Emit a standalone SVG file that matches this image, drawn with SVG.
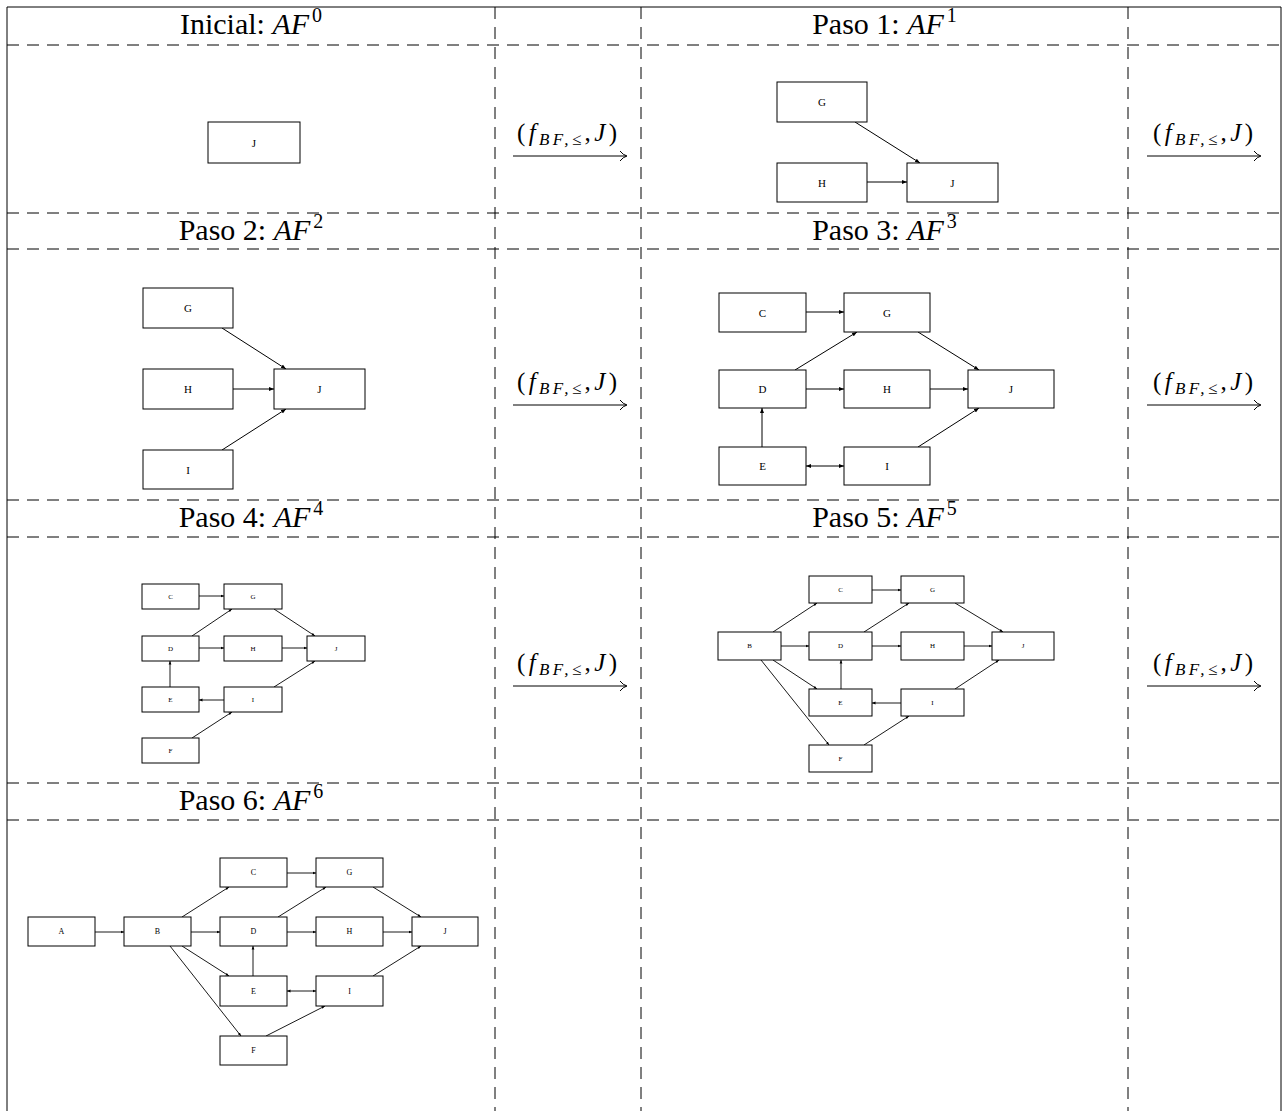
<svg xmlns="http://www.w3.org/2000/svg" width="1282" height="1111" viewBox="0 0 1282 1111">
<style>
.grid{stroke:#000;stroke-width:1;fill:none}
.dash{stroke:#000;stroke-width:1;stroke-dasharray:12 8;fill:none}
.hdr{font-family:"Liberation Serif",serif;font-size:30px;fill:#000;text-anchor:middle}
.lbl{font-family:"Liberation Serif",serif;font-size:25px;fill:#000;text-anchor:middle}
.box{fill:#fff;stroke:#000;stroke-width:1}
.t1{font-family:"Liberation Serif",serif;font-size:11px;fill:#000;text-anchor:middle;dominant-baseline:central}
.t2{font-family:"Liberation Serif",serif;font-size:7px;fill:#000;text-anchor:middle;dominant-baseline:central}
.t3{font-family:"Liberation Serif",serif;font-size:8px;fill:#000;text-anchor:middle;dominant-baseline:central}
.e{stroke:#000;stroke-width:1;fill:none;marker-end:url(#ah)}
.es{stroke:#000;stroke-width:0.9;fill:none;marker-end:url(#ahs)}
.big{stroke:#000;stroke-width:1;fill:none}
</style>
<defs>
<marker id="ah" viewBox="0 0 10 10" refX="10" refY="5" markerWidth="5" markerHeight="5" orient="auto-start-reverse" markerUnits="userSpaceOnUse"><path d="M0,1 L10,5 L0,9 z" fill="#000"/></marker>
<marker id="ahs" viewBox="0 0 10 10" refX="10" refY="5" markerWidth="3.5" markerHeight="3.5" orient="auto-start-reverse" markerUnits="userSpaceOnUse"><path d="M0,1 L10,5 L0,9 z" fill="#000"/></marker>
</defs>
<rect width="1282" height="1111" fill="#fff"/>

<g id="table">
<line class="grid" x1="7" y1="7" x2="1281" y2="7"/>
<line class="grid" x1="7" y1="7" x2="7" y2="1111"/>
<line class="grid" x1="1281" y1="7" x2="1281" y2="1111"/>
<line class="dash" x1="7" y1="45" x2="1281" y2="45"/>
<line class="dash" x1="7" y1="213" x2="1281" y2="213"/>
<line class="dash" x1="7" y1="249" x2="1281" y2="249"/>
<line class="dash" x1="7" y1="500" x2="1281" y2="500"/>
<line class="dash" x1="7" y1="537" x2="1281" y2="537"/>
<line class="dash" x1="7" y1="783" x2="1281" y2="783"/>
<line class="dash" x1="7" y1="820" x2="1281" y2="820"/>
<line class="dash" x1="495" y1="7" x2="495" y2="1111"/>
<line class="dash" x1="641" y1="7" x2="641" y2="1111"/>
<line class="dash" x1="1128" y1="7" x2="1128" y2="1111"/>
</g>

<g id="headers">
<text class="hdr" x="251" y="34">Inicial: <tspan font-style="italic">AF</tspan><tspan font-size="20" dx="3" dy="-12">0</tspan></text>
<text class="hdr" x="884.5" y="34">Paso 1: <tspan font-style="italic">AF</tspan><tspan font-size="20" dx="3" dy="-12">1</tspan></text>
<text class="hdr" x="251" y="240">Paso 2: <tspan font-style="italic">AF</tspan><tspan font-size="20" dx="3" dy="-12">2</tspan></text>
<text class="hdr" x="884.5" y="240">Paso 3: <tspan font-style="italic">AF</tspan><tspan font-size="20" dx="3" dy="-12">3</tspan></text>
<text class="hdr" x="251" y="527">Paso 4: <tspan font-style="italic">AF</tspan><tspan font-size="20" dx="3" dy="-12">4</tspan></text>
<text class="hdr" x="884.5" y="527">Paso 5: <tspan font-style="italic">AF</tspan><tspan font-size="20" dx="3" dy="-12">5</tspan></text>
<text class="hdr" x="251" y="810">Paso 6: <tspan font-style="italic">AF</tspan><tspan font-size="20" dx="3" dy="-12">6</tspan></text>
</g>

<g id="transitions">
<g id="tr1">
<text class="lbl" x="567" y="141" textLength="100" lengthAdjust="spacing">(<tspan font-style="italic">f</tspan><tspan font-size="17" dy="4" font-style="italic">BF,</tspan><tspan font-size="17">≤</tspan><tspan dy="-4">,</tspan><tspan font-style="italic">J</tspan>)</text>
<line class="big" x1="513" y1="156" x2="626" y2="156"/><path class="big" d="M620,151 Q623,155 627,156 Q623,157 620,161"/>
</g>
<g id="tr2">
<text class="lbl" x="1203" y="141" textLength="100" lengthAdjust="spacing">(<tspan font-style="italic">f</tspan><tspan font-size="17" dy="4" font-style="italic">BF,</tspan><tspan font-size="17">≤</tspan><tspan dy="-4">,</tspan><tspan font-style="italic">J</tspan>)</text>
<line class="big" x1="1147" y1="156" x2="1260" y2="156"/><path class="big" d="M1254,151 Q1257,155 1261,156 Q1257,157 1254,161"/>
</g>
<g id="tr3">
<text class="lbl" x="567" y="390" textLength="100" lengthAdjust="spacing">(<tspan font-style="italic">f</tspan><tspan font-size="17" dy="4" font-style="italic">BF,</tspan><tspan font-size="17">≤</tspan><tspan dy="-4">,</tspan><tspan font-style="italic">J</tspan>)</text>
<line class="big" x1="513" y1="405" x2="626" y2="405"/><path class="big" d="M620,400 Q623,404 627,405 Q623,406 620,410"/>
</g>
<g id="tr4">
<text class="lbl" x="1203" y="390" textLength="100" lengthAdjust="spacing">(<tspan font-style="italic">f</tspan><tspan font-size="17" dy="4" font-style="italic">BF,</tspan><tspan font-size="17">≤</tspan><tspan dy="-4">,</tspan><tspan font-style="italic">J</tspan>)</text>
<line class="big" x1="1147" y1="405" x2="1260" y2="405"/><path class="big" d="M1254,400 Q1257,404 1261,405 Q1257,406 1254,410"/>
</g>
<g id="tr5">
<text class="lbl" x="567" y="671" textLength="100" lengthAdjust="spacing">(<tspan font-style="italic">f</tspan><tspan font-size="17" dy="4" font-style="italic">BF,</tspan><tspan font-size="17">≤</tspan><tspan dy="-4">,</tspan><tspan font-style="italic">J</tspan>)</text>
<line class="big" x1="513" y1="686" x2="626" y2="686"/><path class="big" d="M620,681 Q623,685 627,686 Q623,687 620,691"/>
</g>
<g id="tr6">
<text class="lbl" x="1203" y="671" textLength="100" lengthAdjust="spacing">(<tspan font-style="italic">f</tspan><tspan font-size="17" dy="4" font-style="italic">BF,</tspan><tspan font-size="17">≤</tspan><tspan dy="-4">,</tspan><tspan font-style="italic">J</tspan>)</text>
<line class="big" x1="1147" y1="686" x2="1260" y2="686"/><path class="big" d="M1254,681 Q1257,685 1261,686 Q1257,687 1254,691"/>
</g>
</g>

<!-- Initial -->
<g id="s0-J"><rect class="box" x="208" y="122" width="92" height="41"/><text class="t1" x="254" y="142.5">J</text></g>

<!-- Paso 1 -->
<g id="s1-connectors">
<line class="e" x1="855" y1="122" x2="920" y2="163"/>
<line class="e" x1="867" y1="182" x2="907" y2="182"/>
</g>
<g id="s1-G"><rect class="box" x="777" y="82" width="90" height="40"/><text class="t1" x="822" y="102">G</text></g>
<g id="s1-H"><rect class="box" x="777" y="163" width="90" height="39"/><text class="t1" x="822" y="182.5">H</text></g>
<g id="s1-J"><rect class="box" x="907" y="163" width="91" height="39"/><text class="t1" x="952.5" y="182.5">J</text></g>

<!-- Paso 2 -->
<g id="s2-connectors">
<line class="e" x1="222" y1="328" x2="286" y2="369"/>
<line class="e" x1="233" y1="389" x2="274" y2="389"/>
<line class="e" x1="222" y1="450" x2="286" y2="409"/>
</g>
<g id="s2-G"><rect class="box" x="143" y="288" width="90" height="40"/><text class="t1" x="188" y="308">G</text></g>
<g id="s2-H"><rect class="box" x="143" y="369" width="90" height="40"/><text class="t1" x="188" y="389">H</text></g>
<g id="s2-J"><rect class="box" x="274" y="369" width="91" height="40"/><text class="t1" x="319.5" y="389">J</text></g>
<g id="s2-I"><rect class="box" x="143" y="450" width="90" height="39"/><text class="t1" x="188" y="469.5">I</text></g>

<!-- Paso 3 -->
<g id="s3-connectors">
<line class="e" x1="806" y1="312" x2="844" y2="312"/>
<line class="e" x1="795" y1="370" x2="857" y2="332"/>
<line class="e" x1="918" y1="332" x2="979" y2="370"/>
<line class="e" x1="806" y1="389" x2="844" y2="389"/>
<line class="e" x1="930" y1="389" x2="968" y2="389"/>
<line class="e" x1="762" y1="447" x2="762" y2="408"/>
<line class="e" x1="806" y1="466" x2="844" y2="466" marker-start="url(#ah)"/>
<line class="e" x1="918" y1="447" x2="979" y2="408"/>
</g>
<g id="s3-C"><rect class="box" x="719" y="293" width="87" height="39"/><text class="t1" x="762.5" y="312.5">C</text></g>
<g id="s3-G"><rect class="box" x="844" y="293" width="86" height="39"/><text class="t1" x="887" y="312.5">G</text></g>
<g id="s3-D"><rect class="box" x="719" y="370" width="87" height="38"/><text class="t1" x="762.5" y="389">D</text></g>
<g id="s3-H"><rect class="box" x="844" y="370" width="86" height="38"/><text class="t1" x="887" y="389">H</text></g>
<g id="s3-J"><rect class="box" x="968" y="370" width="86" height="38"/><text class="t1" x="1011" y="389">J</text></g>
<g id="s3-E"><rect class="box" x="719" y="447" width="87" height="38"/><text class="t1" x="762.5" y="466">E</text></g>
<g id="s3-I"><rect class="box" x="844" y="447" width="86" height="38"/><text class="t1" x="887" y="466">I</text></g>

<!-- Paso 4 -->
<g id="s4-connectors">
<line class="es" x1="199" y1="596" x2="224" y2="596"/>
<line class="es" x1="192" y1="636" x2="232" y2="609"/>
<line class="es" x1="274" y1="609" x2="315" y2="636"/>
<line class="es" x1="199" y1="648" x2="224" y2="648"/>
<line class="es" x1="282" y1="648" x2="307" y2="648"/>
<line class="es" x1="170" y1="687" x2="170" y2="661"/>
<line class="es" x1="224" y1="700" x2="199" y2="700"/>
<line class="es" x1="274" y1="687" x2="315" y2="661"/>
<line class="es" x1="192" y1="738" x2="232" y2="712"/>
</g>
<g id="s4-C"><rect class="box" x="142" y="584" width="57" height="25"/><text class="t2" x="170.5" y="596.5">C</text></g>
<g id="s4-G"><rect class="box" x="224" y="584" width="58" height="25"/><text class="t2" x="253" y="596.5">G</text></g>
<g id="s4-D"><rect class="box" x="142" y="636" width="57" height="25"/><text class="t2" x="170.5" y="648.5">D</text></g>
<g id="s4-H"><rect class="box" x="224" y="636" width="58" height="25"/><text class="t2" x="253" y="648.5">H</text></g>
<g id="s4-J"><rect class="box" x="307" y="636" width="58" height="25"/><text class="t2" x="336" y="648.5">J</text></g>
<g id="s4-E"><rect class="box" x="142" y="687" width="57" height="25"/><text class="t2" x="170.5" y="699.5">E</text></g>
<g id="s4-I"><rect class="box" x="224" y="687" width="58" height="25"/><text class="t2" x="253" y="699.5">I</text></g>
<g id="s4-F"><rect class="box" x="142" y="738" width="57" height="25"/><text class="t2" x="170.5" y="750.5">F</text></g>

<!-- Paso 5 -->
<g id="s5-connectors">
<line class="es" x1="773" y1="632" x2="817" y2="603"/>
<line class="es" x1="872" y1="590" x2="901" y2="590"/>
<line class="es" x1="864" y1="632" x2="909" y2="603"/>
<line class="es" x1="955" y1="603" x2="1003" y2="632"/>
<line class="es" x1="781" y1="646" x2="809" y2="646"/>
<line class="es" x1="872" y1="646" x2="901" y2="646"/>
<line class="es" x1="964" y1="646" x2="992" y2="646"/>
<line class="es" x1="773" y1="660" x2="817" y2="689"/>
<line class="es" x1="761" y1="660" x2="829" y2="745"/>
<line class="es" x1="841" y1="689" x2="841" y2="660"/>
<line class="es" x1="901" y1="703" x2="872" y2="703"/>
<line class="es" x1="955" y1="689" x2="999" y2="660"/>
<line class="es" x1="864" y1="745" x2="909" y2="716"/>
</g>
<g id="s5-C"><rect class="box" x="809" y="576" width="63" height="27"/><text class="t2" x="840.5" y="589.5">C</text></g>
<g id="s5-G"><rect class="box" x="901" y="576" width="63" height="27"/><text class="t2" x="932.5" y="589.5">G</text></g>
<g id="s5-B"><rect class="box" x="718" y="632" width="63" height="28"/><text class="t2" x="749.5" y="646">B</text></g>
<g id="s5-D"><rect class="box" x="809" y="632" width="63" height="28"/><text class="t2" x="840.5" y="646">D</text></g>
<g id="s5-H"><rect class="box" x="901" y="632" width="63" height="28"/><text class="t2" x="932.5" y="646">H</text></g>
<g id="s5-J"><rect class="box" x="992" y="632" width="62" height="28"/><text class="t2" x="1023" y="646">J</text></g>
<g id="s5-E"><rect class="box" x="809" y="689" width="63" height="27"/><text class="t2" x="840.5" y="702.5">E</text></g>
<g id="s5-I"><rect class="box" x="901" y="689" width="63" height="27"/><text class="t2" x="932.5" y="702.5">I</text></g>
<g id="s5-F"><rect class="box" x="809" y="745" width="63" height="27"/><text class="t2" x="840.5" y="758.5">F</text></g>

<!-- Paso 6 -->
<g id="s6-connectors">
<line class="es" x1="95" y1="932" x2="124" y2="932"/>
<line class="es" x1="182" y1="917" x2="229" y2="887"/>
<line class="es" x1="287" y1="873" x2="316" y2="873"/>
<line class="es" x1="191" y1="932" x2="220" y2="932"/>
<line class="es" x1="278" y1="917" x2="326" y2="887"/>
<line class="es" x1="373" y1="887" x2="421" y2="917"/>
<line class="es" x1="287" y1="932" x2="316" y2="932"/>
<line class="es" x1="383" y1="932" x2="412" y2="932"/>
<line class="es" x1="182" y1="946" x2="229" y2="976"/>
<line class="es" x1="170" y1="946" x2="241" y2="1036"/>
<line class="es" x1="253" y1="976" x2="253" y2="946"/>
<line class="es" x1="287" y1="991" x2="316" y2="991" marker-start="url(#ahs)"/>
<line class="es" x1="373" y1="976" x2="421" y2="946"/>
<line class="es" x1="266" y1="1036" x2="325" y2="1006"/>
</g>
<g id="s6-A"><rect class="box" x="28" y="917" width="67" height="29"/><text class="t3" x="61.5" y="931.5">A</text></g>
<g id="s6-B"><rect class="box" x="124" y="917" width="67" height="29"/><text class="t3" x="157.5" y="931.5">B</text></g>
<g id="s6-C"><rect class="box" x="220" y="858" width="67" height="29"/><text class="t3" x="253.5" y="872.5">C</text></g>
<g id="s6-G"><rect class="box" x="316" y="858" width="67" height="29"/><text class="t3" x="349.5" y="872.5">G</text></g>
<g id="s6-D"><rect class="box" x="220" y="917" width="67" height="29"/><text class="t3" x="253.5" y="931.5">D</text></g>
<g id="s6-H"><rect class="box" x="316" y="917" width="67" height="29"/><text class="t3" x="349.5" y="931.5">H</text></g>
<g id="s6-J"><rect class="box" x="412" y="917" width="66" height="29"/><text class="t3" x="445" y="931.5">J</text></g>
<g id="s6-E"><rect class="box" x="220" y="976" width="67" height="30"/><text class="t3" x="253.5" y="991">E</text></g>
<g id="s6-I"><rect class="box" x="316" y="976" width="67" height="30"/><text class="t3" x="349.5" y="991">I</text></g>
<g id="s6-F"><rect class="box" x="220" y="1036" width="67" height="29"/><text class="t3" x="253.5" y="1050.5">F</text></g>
</svg>
